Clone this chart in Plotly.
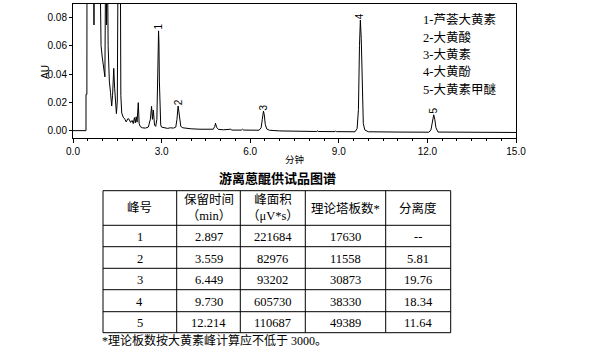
import plotly.graph_objects as go

# ---------------- data ----------------
# chromatogram trace (time in min, absorbance in AU)
time_min = [0.00, 0.44, 0.441, 0.47, 0.475,
            0.69, 0.71, 0.73,
            0.90, 0.92, 0.95, 0.99, 1.04, 1.08, 1.11, 1.135, 1.16,
            1.19, 1.23, 1.27, 1.31, 1.34, 1.38, 1.41, 1.44, 1.47, 1.50, 1.53, 1.60,
            1.62, 1.65, 1.70, 1.76, 1.80, 1.86, 1.90, 1.95, 2.00, 2.04, 2.08, 2.11,
            2.14, 2.17, 2.21, 2.24, 2.28, 2.35, 2.45, 2.55, 2.62, 2.66, 2.69, 2.72,
            2.76, 2.80, 2.84, 2.87, 2.897, 2.91, 2.925, 2.945, 2.97, 3.00, 3.10,
            3.20, 3.30, 3.40, 3.48, 3.52, 3.559, 3.585, 3.61, 3.65, 3.72, 3.85,
            4.00, 4.30, 4.60, 4.75, 4.80, 4.825, 4.86, 4.92, 5.10, 5.30, 5.34,
            5.38, 5.70, 5.74, 5.78, 6.30, 6.37, 6.41, 6.449, 6.475, 6.51, 6.56,
            6.65, 7.00, 7.50, 8.25, 8.27, 8.30, 8.87, 8.89, 8.92, 9.55, 9.62,
            9.665, 9.70, 9.73, 9.76, 9.79, 9.83, 9.88, 10.00, 11.00, 12.05,
            12.12, 12.17, 12.214, 12.25, 12.29, 12.36, 13.00, 15.00]
absorb_au = [0.0000, 0.0000, 0.0257, 0.0257, 0.1400,
             0.1400, 0.0747, 0.1400,
             0.1400, 0.0800, 0.0600, 0.0520, 0.0450, 0.0380, 0.1400, 0.0747, 0.1400,
             0.0600, 0.0350, 0.0270, 0.0174, 0.0250, 0.0440, 0.0300, 0.0160, 0.0120, 0.0210, 0.1400, 0.1400,
             0.0250, 0.0125, 0.0095, 0.0080, 0.0062, 0.0085, 0.0080, 0.0058, 0.0072, 0.0050, 0.0092, 0.0055,
             0.0098, 0.0060, 0.0198, 0.0050, 0.0028, 0.0020, 0.0018, 0.0025, 0.0080, 0.0172, 0.0080, 0.0146,
             0.0040, 0.0030, 0.0080, 0.0400, 0.0705, 0.0620, 0.0350, 0.0100, 0.0040, 0.0025, 0.0018,
             0.0016, 0.0020, 0.0018, 0.0025, 0.0080, 0.0174, 0.0130, 0.0060, 0.0030, 0.0020, 0.0016,
             0.0013, 0.0010, 0.0008, 0.0010, 0.0030, 0.0052, 0.0025, 0.0009, 0.0006, 0.0005, 0.0010,
             0.0004, 0.0004, 0.0010, 0.0004, 0.0003, 0.0020, 0.0080, 0.0138, 0.0115, 0.0045, 0.0012,
             0.0003, -0.0002, -0.0004, -0.0006, -0.0001, -0.0006, -0.0007, -0.0002, -0.0007, -0.0008, 0.0015,
             0.0150, 0.0600, 0.0782, 0.0650, 0.0260, 0.0050, 0.0005, -0.0008, -0.0010, -0.0011,
             0.0005, 0.0060, 0.0112, 0.0080, 0.0020, -0.0010, -0.0012, -0.0013]

peak_no = ["1", "2", "3", "4", "5"]
peak_apex_au = [0.0705, 0.0174, 0.0138, 0.0782, 0.0112]
compound_names = ["芦荟大黄素", "大黄酸", "大黄素", "大黄酚", "大黄素甲醚"]

ret_time = [2.897, 3.559, 6.449, 9.730, 12.214]
peak_area = [221684, 82976, 93202, 605730, 110687]
plates = [17630, 11558, 30873, 38330, 49389]
resolution = [None, 5.81, 19.76, 18.34, 11.64]

table_header = ["峰号", "保留时间<br>（min）", "峰面积<br>（μV*s）", "理论塔板数*", "分离度"]

x_ticks = [0, 3, 6, 9, 12, 15]
y_ticks = [0.00, 0.02, 0.04, 0.06, 0.08]

chart_title = "游离蒽醌供试品图谱"
footnote = "*理论板数按大黄素峰计算应不低于 3000。"

# ---------------- layout helpers ----------------
W, H = 594, 354
def px(x):
    return x / W
def py(y):
    return 1 - y / H

SERIF = "Liberation Serif, Noto Sans CJK SC"
SANS = "Liberation Sans, Arial, sans-serif"
CJK = "Noto Sans CJK SC"

fig = go.Figure()
fig.add_trace(go.Scatter(x=time_min, y=absorb_au, mode="lines",
                         line=dict(color="black", width=1), hoverinfo="skip",
                         showlegend=False))

annotations = []
def note(x, y, text, font, xanchor="center", yanchor="middle", **kw):
    d = dict(x=x, y=y, xref="paper", yref="paper", text=text, showarrow=False,
             xanchor=xanchor, yanchor=yanchor, font=font)
    d.update(kw)
    annotations.append(d)

# peak labels (rotated)
for lab, t, a in zip(peak_no, ret_time, peak_apex_au):
    annotations.append(dict(x=t, y=a, xref="x", yref="y", text=lab, showarrow=False,
                            textangle=-90, yanchor="bottom", xanchor="center", yshift=-1,
                            font=dict(family=SANS, size=10, color="black")))

# in-plot compound list
for i, (lab, name) in enumerate(zip(peak_no, compound_names)):
    note(px(421), py(20 + i * 17.4), f"{lab}-{name}",
         dict(family=SERIF, size=12.5, color="black"), xanchor="left")

# axis titles
note(px(45), py(72), "AU", dict(family=SANS, size=10, color="black"), textangle=-90)
note(px(294), py(159), "分钟", dict(family=CJK, size=9.5, color="black"))
note(px(277), py(177), f"<b>{chart_title}</b>", dict(family=CJK, size=13, color="black"))

# table
col_x = [103, 176.7, 240.3, 305.3, 385.7, 450.7]
row_y = [190.7, 225.3, 246.7, 268.3, 289.7, 311.7, 332.7]
shapes = []
for yy in row_y:
    shapes.append(dict(type="line", xref="paper", yref="paper", x0=px(col_x[0]), x1=px(col_x[-1]),
                       y0=py(yy), y1=py(yy), line=dict(color="black", width=1)))
for xx in col_x:
    shapes.append(dict(type="line", xref="paper", yref="paper", x0=px(xx), x1=px(xx),
                       y0=py(row_y[0]), y1=py(row_y[-1]), line=dict(color="black", width=1)))

for j, h in enumerate(table_header):
    cx = (col_x[j] + col_x[j + 1]) / 2
    cy = (row_y[0] + row_y[1]) / 2
    note(px(cx), py(cy), h, dict(family=SERIF, size=12.5, color="black"), align="center")

rows = []
for i in range(len(peak_no)):
    res = "--" if resolution[i] is None else f"{resolution[i]:.2f}"
    rows.append([peak_no[i], f"{ret_time[i]:.3f}", str(peak_area[i]), str(plates[i]), res])
for i, r in enumerate(rows):
    cy = (row_y[i + 1] + row_y[i + 2]) / 2
    for j, v in enumerate(r):
        cx = (col_x[j] + col_x[j + 1]) / 2
        note(px(cx), py(cy + 1), v, dict(family=SERIF, size=12.5, color="black"))

note(px(100), py(340), footnote, dict(family=SERIF, size=12, color="black"), xanchor="left")

fig.update_layout(
    width=W, height=H, margin=dict(l=0, r=0, t=0, b=0, autoexpand=False),
    paper_bgcolor="white", plot_bgcolor="white",
    xaxis=dict(domain=[px(73), px(516)], range=[0, 15], tickvals=x_ticks, automargin=False,
               ticktext=[f"{v:.1f}" for v in x_ticks], showline=True, mirror=True,
               linecolor="black", linewidth=1, ticks="outside", ticklen=4, tickcolor="black",
               showgrid=False, zeroline=False,
               minor=dict(dtick=0.5, ticks="outside", ticklen=2, tickcolor="black", showgrid=False),
               tickfont=dict(family=SANS, size=10, color="black")),
    yaxis=dict(domain=[py(138), py(4)], range=[-0.0052, 0.0895], tickvals=y_ticks, automargin=False,
               ticktext=[f"{v:.2f}" for v in y_ticks], showline=True, mirror=True,
               linecolor="black", linewidth=1, ticks="outside", ticklen=3, tickcolor="black",
               showgrid=False, zeroline=False,
               tickfont=dict(family=SANS, size=10, color="black")),
    annotations=annotations, shapes=shapes,
)

fig.write_html("out.html")
